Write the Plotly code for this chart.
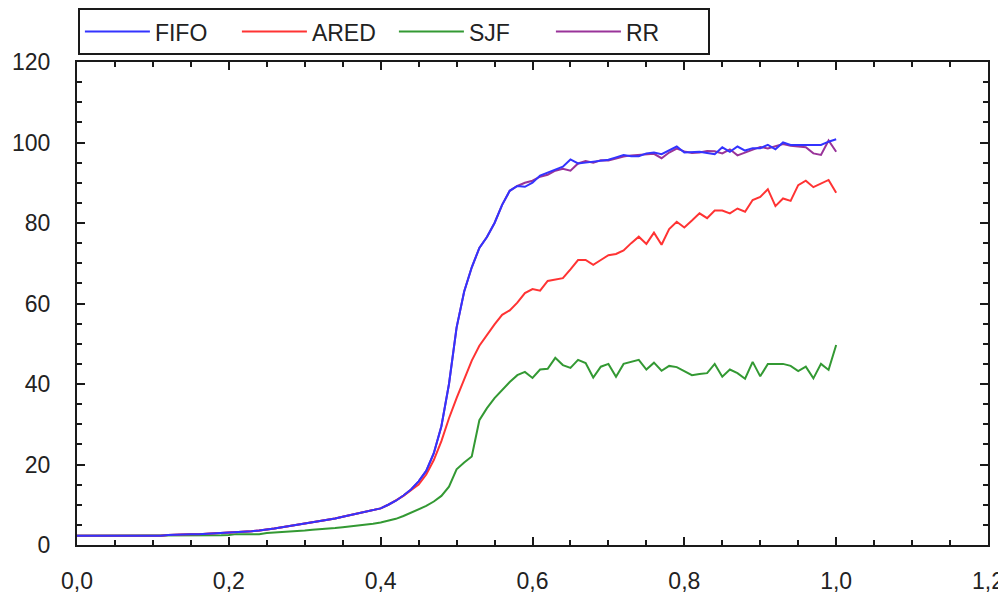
import plotly.graph_objects as go

x_vals = [round(i * 0.01, 2) for i in range(101)]

fifo = [2.3, 2.3, 2.3, 2.3, 2.3, 2.3, 2.3, 2.3, 2.3, 2.3,
        2.3, 2.3, 2.5, 2.6, 2.6, 2.7, 2.7, 2.8, 2.9, 3.0,
        3.0, 3.1, 3.2, 3.4, 3.6, 3.8, 4.1, 4.4, 4.7, 5.0,
        5.3, 5.6, 5.9, 6.2, 6.6, 7.0, 7.4, 7.8, 8.2, 8.6,
        9.1, 10.0, 11.0, 12.3, 13.8, 15.8, 18.4, 22.8, 29.5, 40.0,
        54.0, 63.0, 69.0, 73.8, 76.5, 80.0, 84.5, 88.0, 89.2, 89.0,
        90.0, 91.8, 92.6, 93.2, 94.0, 95.8, 94.8, 95.0, 95.2, 95.5,
        95.7, 96.3, 96.9, 96.6, 96.6, 97.3, 97.5, 97.1, 98.0, 99.0,
        97.5, 97.6, 97.7, 97.4, 97.1, 98.8, 97.7, 99.0, 98.0, 98.6,
        98.6, 99.4, 98.3, 100.0, 99.4, 99.4, 99.4, 99.4, 99.4, 100.2,
        100.8]

ared = [2.3, 2.3, 2.3, 2.3, 2.3, 2.3, 2.3, 2.3, 2.3, 2.3,
        2.3, 2.3, 2.5, 2.6, 2.6, 2.7, 2.7, 2.8, 2.9, 3.0,
        3.0, 3.1, 3.2, 3.4, 3.6, 3.8, 4.1, 4.4, 4.7, 5.0,
        5.3, 5.6, 5.9, 6.2, 6.6, 7.0, 7.4, 7.8, 8.2, 8.6,
        9.1, 10.0, 11.0, 12.2, 13.6, 15.0, 17.5, 21.1, 25.8, 31.5,
        36.5, 41.0, 45.8, 49.5, 52.3, 54.8, 57.2, 58.3, 60.2, 62.6,
        63.6, 63.2, 65.6, 66.0, 66.3, 68.5, 70.8, 70.8, 69.6, 70.8,
        72.0, 72.3, 73.2, 75.0, 76.6, 74.8, 77.6, 74.6, 78.5, 80.3,
        78.9, 80.6, 82.4, 81.2, 83.1, 83.1, 82.4, 83.6, 82.8, 85.7,
        86.5, 88.4, 84.2, 86.1, 85.5, 89.4, 90.5, 88.9, 89.8, 90.7,
        87.5]

sjf = [2.3, 2.3, 2.3, 2.3, 2.3, 2.3, 2.3, 2.3, 2.3, 2.3,
       2.3, 2.3, 2.3, 2.4, 2.4, 2.4, 2.4, 2.4, 2.4, 2.4,
       2.5, 2.7, 2.7, 2.7, 2.7, 3.0, 3.1, 3.2, 3.3, 3.5,
       3.6, 3.8, 3.9, 4.0, 4.2, 4.4, 4.6, 4.8, 5.0, 5.3,
       5.6, 6.0, 6.5, 7.2, 8.0, 8.8, 9.7, 10.8, 12.2, 14.5,
       18.8, 20.5, 22.0, 31.0, 34.0, 36.5, 38.5, 40.5, 42.2, 43.0,
       41.5, 43.6, 43.8, 46.5, 44.7, 44.0, 46.0, 45.2, 41.6, 44.3,
       45.0, 41.8, 45.0, 45.5, 46.0, 43.6, 45.3, 43.3, 44.5, 44.2,
       43.2, 42.2, 42.5, 42.7, 45.0, 41.8, 43.6, 42.7, 41.3, 45.5,
       41.9, 45.0, 45.0, 45.0, 44.5, 43.2, 44.3, 41.4, 45.0, 43.5,
       49.7]

rr = [2.3, 2.3, 2.3, 2.3, 2.3, 2.3, 2.3, 2.3, 2.3, 2.3,
      2.3, 2.3, 2.5, 2.6, 2.6, 2.7, 2.7, 2.8, 2.9, 3.0,
      3.0, 3.1, 3.2, 3.4, 3.6, 3.8, 4.1, 4.4, 4.7, 5.0,
      5.3, 5.6, 5.9, 6.2, 6.6, 7.0, 7.4, 7.8, 8.2, 8.6,
      9.1, 10.0, 11.0, 12.3, 13.8, 15.8, 18.4, 22.8, 29.5, 40.0,
      54.0, 63.0, 69.0, 73.8, 76.5, 80.0, 84.5, 88.0, 89.2, 90.0,
      90.5, 91.5, 92.0, 93.0, 93.5, 93.0, 94.8, 95.4, 95.0, 95.6,
      95.5, 96.0, 96.5, 96.8, 96.9, 97.0, 97.2, 96.1, 97.5, 98.5,
      97.8, 97.4, 97.5, 97.9, 97.8, 97.3, 98.3, 96.8, 97.5, 98.2,
      98.9, 98.5, 99.0, 99.6, 99.2, 99.0, 98.8, 97.3, 96.9, 100.5,
      97.7]

series_names = ["FIFO", "ARED", "SJF", "RR"]
series_data = {"FIFO": fifo, "ARED": ared, "SJF": sjf, "RR": rr}
series_colors = {"FIFO": "#3333ff", "ARED": "#ff3333",
                 "SJF": "#339933", "RR": "#993399"}

x_ticks = [0.0, 0.2, 0.4, 0.6, 0.8, 1.0, 1.2]
y_ticks = [0, 20, 40, 60, 80, 100, 120]

fig = go.Figure()
# draw order: RR bottom, FIFO on top; legend reversed to show FIFO first
for name in ["RR", "SJF", "ARED", "FIFO"]:
    fig.add_trace(go.Scatter(
        x=x_vals, y=series_data[name], mode="lines", name=name,
        line=dict(color=series_colors[name], width=2),
    ))

axis_col = "#1a1a1a"
tick_font = dict(family="Liberation Sans, Arial, sans-serif", size=23, color="#222222")

fig.update_layout(
    width=1006, height=595,
    margin=dict(l=69, r=26, t=54, b=58, autoexpand=False),
    paper_bgcolor="white", plot_bgcolor="white",
    separators=",.",
    showlegend=True,
    legend=dict(
        orientation="h", traceorder="reversed",
        x=0.001, xanchor="left", y=1.063, yanchor="middle",
        bordercolor=axis_col, borderwidth=2, bgcolor="white",
        font=dict(family="Liberation Sans, Arial, sans-serif", size=23, color="#222222"),
        entrywidth=77, entrywidthmode="pixels", itemwidth=65,
    ),
    xaxis=dict(
        range=[0, 1.2], tickvals=x_ticks, tickformat=".1f",
        showgrid=False, zeroline=False,
        showline=True, linecolor=axis_col, linewidth=2, mirror="ticks",
        ticks="inside", ticklen=8, tickwidth=2, tickcolor=axis_col,
        minor=dict(dtick=0.05, ticks="inside", ticklen=5, tickwidth=2, tickcolor=axis_col),
        tickfont=tick_font, ticklabelstandoff=14,
    ),
    yaxis=dict(
        range=[0, 120], tickvals=y_ticks,
        showgrid=False, zeroline=False,
        showline=True, linecolor=axis_col, linewidth=2, mirror="ticks",
        ticks="inside", ticklen=8, tickwidth=2, tickcolor=axis_col,
        minor=dict(dtick=5, ticks="inside", ticklen=5, tickwidth=2, tickcolor=axis_col),
        tickfont=tick_font, ticklabelstandoff=20,
    ),
    xaxis2=dict(
        overlaying="x", anchor="y", side="bottom", range=[0, 1.2], tickvals=x_ticks,
        showgrid=False, zeroline=False, showline=False, showticklabels=False,
        ticks="outside", ticklen=8, tickwidth=2, tickcolor=axis_col,
        minor=dict(dtick=0.05, ticks="outside", ticklen=5, tickwidth=2, tickcolor=axis_col),
    ),
    yaxis2=dict(
        overlaying="y", anchor="x", side="left", range=[0, 120], tickvals=y_ticks,
        showgrid=False, zeroline=False, showline=False, showticklabels=False,
        ticks="outside", ticklen=8, tickwidth=2, tickcolor=axis_col,
        minor=dict(dtick=5, ticks="outside", ticklen=5, tickwidth=2, tickcolor=axis_col),
    ),
)

fig.write_html("out.html")
